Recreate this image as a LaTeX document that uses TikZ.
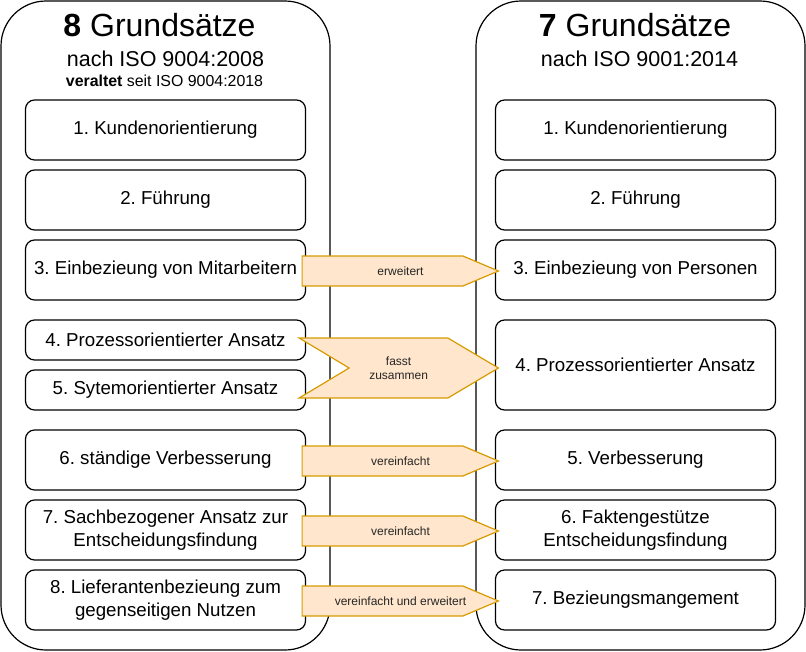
\documentclass[tikz,border=0pt]{standalone}
\usepackage{fontspec}
\setmainfont{Liberation Sans}
\usetikzlibrary{calc}
\definecolor{pfeilfill}{HTML}{FFE6CC}
\definecolor{pfeildraw}{HTML}{D79B00}
\frenchspacing

\begin{document}
\begin{tikzpicture}[x=1pt,y=-1pt,
  rahmen/.style={line width=1.2pt,rounded corners=45pt},
  box/.style={draw,line width=1.2pt,rounded corners=9pt,minimum width=280pt,minimum height=60pt,inner sep=0pt,align=center,font=\fontsize{18.7}{22.4}\selectfont},
  flach/.style={box,minimum height=40pt},
  pfeil/.style={draw=pfeildraw,fill=pfeilfill,line width=1.2pt},
  ptext/.style={font=\fontsize{12}{14.4}\selectfont,align=center,text=black!85}]
\useasboundingbox (0,0) rectangle (806,651);

% die zwei Rahmen
\draw[rahmen] (1,1) rectangle (330,650);
\draw[rahmen] (476,1) rectangle (805,650);

% Titel
\node[anchor=base,font=\fontsize{32}{38}\selectfont] (ltitel) at (159.5,36.7) {\textbf{8} Grundsätze};
\node[anchor=base,font=\fontsize{21.5}{26}\selectfont] (liso) at (165.5,66.7) {nach ISO 9004:2008};
\node[anchor=base,font=\fontsize{15.9}{19}\selectfont] (lalt) at (164.5,86) {\textbf{veraltet} seit ISO 9004:2018};
\node[anchor=base,font=\fontsize{32}{38}\selectfont] (rtitel) at (635,36.7) {\textbf{7} Grundsätze};
\node[anchor=base,font=\fontsize{21.5}{26}\selectfont] (riso) at (639.5,66.7) {nach ISO 9001:2014};

% links: ISO 9004:2008
\foreach \n/\y/\t in {1/130/1. Kundenorientierung, 2/200/2. Führung, 3/270/3. Einbezieung von Mitarbeitern, 6/460/6. ständige Verbesserung, 7/530/{7. Sachbezogener Ansatz zur\\Entscheidungsfindung}, 8/600/{8. Lieferantenbezieung zum\\gegenseitigen Nutzen}} {
\node[box] (l\n) at (165.5,\y) {\t};
}
\node[flach] (l4) at (165.5,340) {4. Prozessorientierter Ansatz};
\node[flach] (l5) at (165.5,390) {5. Sytemorientierter Ansatz};

% rechts: ISO 9001:2014
\foreach \n/\y/\t in {1/130/1. Kundenorientierung, 2/200/2. Führung, 3/270/3. Einbezieung von Personen, 5/460/5. Verbesserung, 6/530/{6. Faktengestütze\\Entscheidungsfindung}, 7/600/7. Bezieungsmangement} {
\node[box] (r\n) at (635.5,\y) {\t};
}
\node[box,minimum height=90pt] (r4) at (635.5,365) {4. Prozessorientierter Ansatz};

% Pfeile
\foreach \a/\b/\t in {3/3/erweitert, 6/5/vereinfacht, 7/6/vereinfacht, 8/7/vereinfacht und erweitert} {
\draw[pfeil] ($(l\a.east)+(-4,-14)$) -- ($(r\b.west)+(-32,-14)$) -- ($(r\b.west)+(3.5,1)$) -- ($(r\b.west)+(-32,16)$) -- ($(l\a.east)+(-4,16)$) -- cycle;
\node[ptext] (p\a) at ($(l\a.east)!0.5!(r\b.west)+(0,1)$) {\t};
}

\draw[pfeil] ($(l4.east)+(-7,-2)$) -- ($(r4.west)+(-47,-27)$) -- ($(r4.west)+(3.5,3)$) -- ($(r4.west)+(-47,33)$) -- ($(l5.east)+(-7,8)$) -- ($(l4.east)!0.5!(l5.east)+(43,3)$) -- cycle;
\node[ptext] (pz) at ($(l4.east)!0.5!(l5.east)+(92.5,3)$) {fasst\\zusammen};

\end{tikzpicture}
\end{document}
